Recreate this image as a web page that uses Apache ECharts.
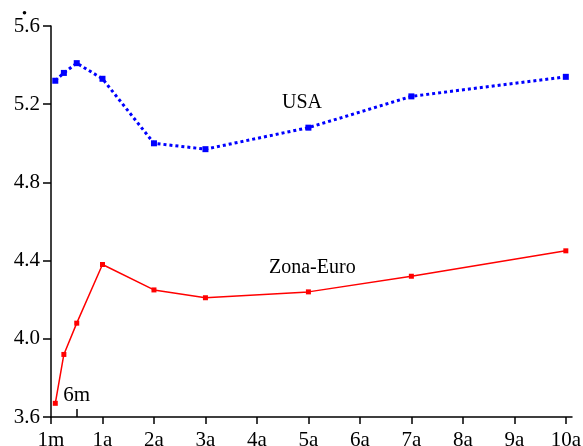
<!DOCTYPE html>
<html>
<head>
<meta charset="utf-8">
<script src="https://cdn.jsdelivr.net/npm/echarts@6/dist/echarts.min.js"></script>
<style>html,body{margin:0;padding:0;background:#fff}#c{width:583px;height:446px}</style>
</head>
<body>
<div id="c"></div>
<script>
// maturities in years
const maturities = [1/12, 0.25, 0.5, 1, 2, 3, 5, 7, 10];
const usa = [5.32, 5.36, 5.41, 5.33, 5.00, 4.97, 5.08, 5.24, 5.34];
const euro = [3.67, 3.92, 4.08, 4.38, 4.25, 4.21, 4.24, 4.32, 4.45];
const xTickValues = [0, 1, 2, 3, 4, 5, 6, 7, 8, 9, 10];
const xTickLabels = ['1m', '1a', '2a', '3a', '4a', '5a', '6a', '7a', '8a', '9a', '10a'];
const innerTickValues = [0.5];
const innerTickLabels = ['6m'];

const FONT = 'Liberation Serif';
const chart = echarts.init(document.getElementById('c'), null, {renderer: 'canvas'});
chart.setOption({
  animation: false,
  backgroundColor: '#fff',
  grid: {left: 51, right: 11, top: 26, bottom: 29, containLabel: false, outerBoundsMode: 'none'},
  xAxis: [{
    type: 'value', min: 0, max: 10.12,
    axisLine: {show: true, lineStyle: {color: '#000', width: 1.5}},
    axisTick: {show: true, length: 7, customValues: xTickValues, lineStyle: {color: '#000', width: 1.5}},
    axisLabel: {customValues: xTickValues, margin: 13, color: '#000', fontFamily: FONT, fontSize: 21,
      formatter: v => xTickLabels[xTickValues.indexOf(Math.round(v))]},
    splitLine: {show: false}
  }, {
    type: 'value', min: 0, max: 10.12, position: 'bottom',
    axisLine: {show: false},
    axisTick: {show: true, inside: true, length: 8, customValues: innerTickValues, lineStyle: {color: '#000', width: 1.5}},
    axisLabel: {inside: true, customValues: innerTickValues, margin: 11, color: '#000', fontFamily: FONT, fontSize: 21,
      formatter: v => innerTickLabels[innerTickValues.indexOf(v)]},
    splitLine: {show: false}
  }],
  yAxis: {
    type: 'value', min: 3.6, max: 5.6, interval: 0.4,
    axisLine: {show: true, lineStyle: {color: '#000', width: 1.5}},
    axisTick: {show: true, length: 8, lineStyle: {color: '#000', width: 1.5}},
    axisLabel: {margin: 11, color: '#000', fontFamily: FONT, fontSize: 21, formatter: v => v.toFixed(1)},
    splitLine: {show: false}
  },
  series: [{
    name: 'USA', type: 'line',
    data: maturities.map((m, i) => [m, usa[i]]),
    symbol: 'rect', symbolSize: 6,
    itemStyle: {color: '#0000ff'},
    lineStyle: {color: '#0000ff', width: 3, type: [3, 3], cap: 'butt'}
  }, {
    name: 'Zona-Euro', type: 'line',
    data: maturities.map((m, i) => [m, euro[i]]),
    symbol: 'rect', symbolSize: 5,
    itemStyle: {color: '#ff0000'},
    lineStyle: {color: '#ff0000', width: 1.5}
  }],
  graphic: [
    {type: 'text', left: 282, top: 93, style: {text: 'USA', font: '20px "Liberation Serif"', fill: '#000'}},
    {type: 'text', left: 269, top: 258, style: {text: 'Zona-Euro', font: '20px "Liberation Serif"', fill: '#000'}},
    {type: 'circle', shape: {cx: 24.5, cy: 12.7, r: 1.8}, style: {fill: '#000'}}
  ]
});
</script>
</body>
</html>
